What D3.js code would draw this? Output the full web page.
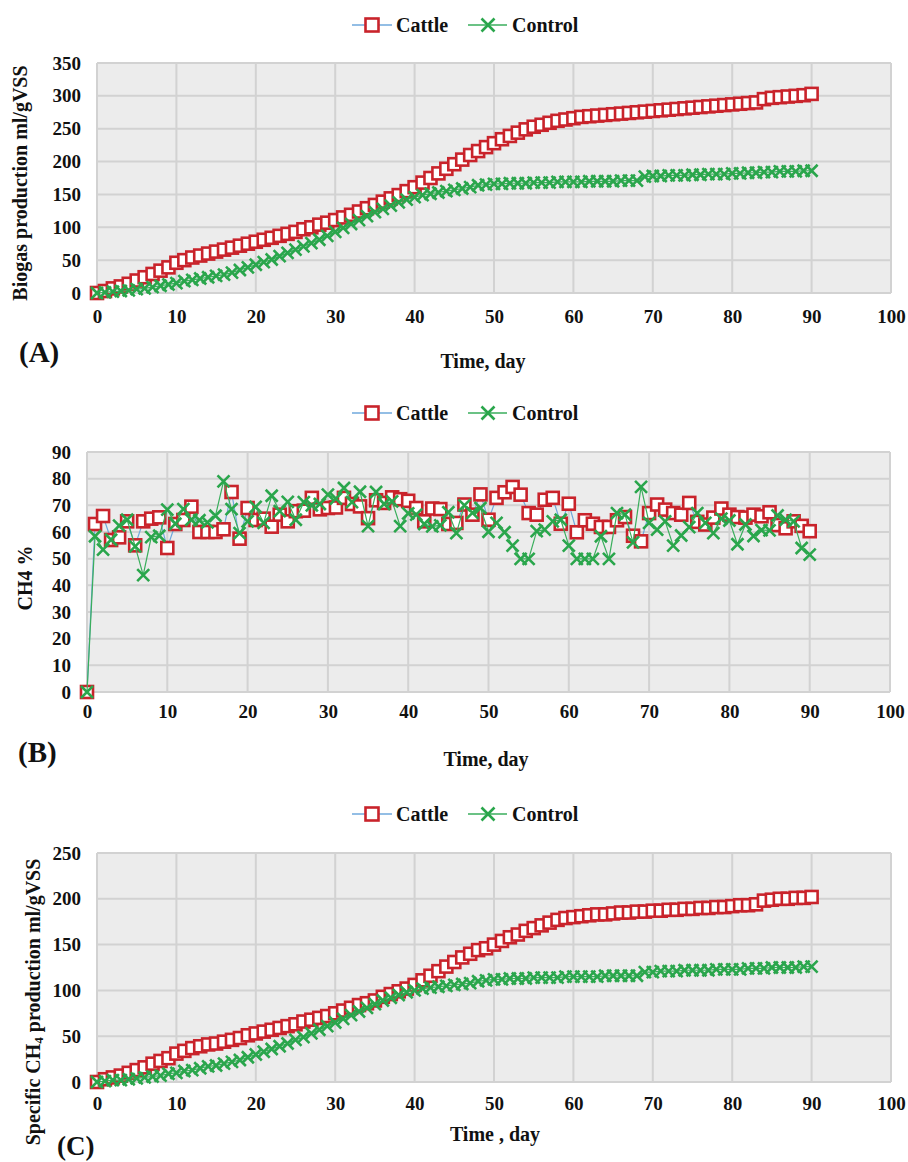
<!DOCTYPE html>
<html>
<head>
<meta charset="utf-8">
<script src="https://cdn.jsdelivr.net/npm/d3@7"></script>
<style>
  html, body { margin: 0; padding: 0; background: #fff; }
  svg { display: block; }
  text { font-family: "Liberation Serif", "Times New Roman", serif; font-weight: bold; fill: #111; }
</style>
</head>
<body>
<svg id="chart" width="908" height="1162"></svg>
<script>
// ---------- DATA ----------
const days = [0,1,2,3,4,5,6,7,8,9,10,11,12,13,14,15,16,17,18,19,20,21,22,23,24,25,26,27,28,29,30,
  31,32,33,34,35,36,37,38,39,40,41,42,43,44,45,46,47,48,49,50,51,52,53,54,55,56,57,58,59,60,
  61,62,63,64,65,66,67,68,69,70,71,72,73,74,75,76,77,78,79,80,81,82,83,84,85,86,87,88,89,90];

const seriesNames = ["Cattle", "Control"];
const xTicks = [0,10,20,30,40,50,60,70,80,90,100];

// (A) cumulative biogas production, ml/gVSS
const biogasCattle = [0,3,7,10,14,19,24,29,34,39,46,50,54,57,60,63,66,69,72,75,78,81,84,87,90,93,97,100,104,107,
  111,115,119,124,129,134,139,144,149,155,161,168,175,182,189,196,203,210,216,222,
  228,234,239,244,249,253,256,259,262,264,266,268,269,270,271,272,273,274,275,276,
  277,278,279,280,281,282,283,284,285,286,287,288,289,290,295,297,298,299,300,301,303];
const biogasControl = [0,1,2,3,4,6,7,9,11,13,15,18,20,22,24,26,28,31,35,39,43,47,51,56,61,66,71,76,81,87,
  93,99,105,111,117,123,128,133,138,142,146,149,151,153,155,157,159,161,164,165,
  166,166,167,167,167,168,168,168,169,169,169,169,170,170,170,170,171,171,171,177,
  178,178,179,179,179,180,180,181,181,181,182,182,183,183,184,184,185,185,185,186,186];
const biogasTicks = [0,50,100,150,200,250,300,350];

// (B) CH4 content, %
const ch4Cattle = [0,63,66,57,58,64,55,64,65,65.5,54,63,64.5,69.5,60,60,60,61,75,57.5,
  69,64.5,65,62,66.5,64,67.8,68,72.8,68.5,69,69.2,72.8,70.5,69.6,65.2,71.9,70.9,73,72.3,
  71.7,69,64,68.8,68.6,63,63.4,70.3,66.5,74.1,64.6,72.8,74.9,76.9,74,67.1,66.5,72.1,72.8,63.1,
  70.6,59.9,64.4,63.1,61.9,61.9,64.4,65.6,58.6,56.5,67.1,70.3,68.4,67.1,66.5,70.9,63.8,62.8,65.4,68.8,
  66.5,65.6,65.4,66.5,65.9,67.4,62.6,61.4,64,62.3,60.3];
const ch4Control = [0,58.4,53.4,57.1,62.4,64.6,54.6,43.8,58.1,58.6,68.4,63.1,68.6,64.6,64.4,63.6,66.1,79,68.6,59.6,
  64,69.4,63.4,73.6,67.8,71.3,64.6,71.2,70,70.5,74,72.5,76.5,71.2,75.1,62.2,75,70.5,71.5,62.2,
  67,66.5,63,62.1,62.5,67.4,59.6,70,67.2,69,60.1,63.4,59.9,54.9,49.9,49.9,60.3,60.9,64,64.6,
  54.9,49.9,49.9,49.9,58.4,49.9,67.1,66.5,56.1,76.9,63.4,60.9,64,54.9,58.7,61.8,67.1,63.4,59.6,65,
  64.3,55.4,62.8,58.5,60.7,60.6,66.2,64.6,64,54,51.5];
const ch4Ticks = [0,10,20,30,40,50,60,70,80,90];

// (C) cumulative specific CH4 production, ml/gVSS
const methaneCattle = [0,3,5,7,10,13,16,20,23,26,31,34,37,39,41,42,44,46,48,51,53,55,57,59,61,63,66,68,70,72,
  75,78,81,84,86,89,93,96,99,102,106,111,116,121,126,131,136,140,144,146,
  150,154,158,161,165,168,171,174,177,179,180,181,182,183,183,184,185,185,186,186,
  187,187,188,188,189,189,190,190,191,191,192,193,193,194,198,199,200,200,201,201,202];
const methaneControl = [0,1,2,2,3,4,5,6,7,9,10,12,13,15,17,18,20,22,24,27,30,33,36,39,42,46,49,53,57,61,
  65,69,73,77,81,85,89,92,95,98,100,102,103,104,105,106,107,108,110,111,
  112,112,113,113,113,114,114,114,114,115,115,115,115,115,116,116,116,116,116,120,
  120,121,121,121,122,122,122,122,123,123,123,123,124,124,124,125,125,125,125,126,126];
const methaneTicks = [0,50,100,150,200,250];

// ---------- STYLE ----------
const RED = "#c9232b";
const GREEN = "#2aa64c";
const BLUE_LINE = "#6fa8dc";
const GREEN_LINE = "#3aae5c";
const GRID = "#d2d2d2";
const BG = "#ececec";

const svg = d3.select("#chart");
svg.append("rect").attr("width", 908).attr("height", 1162).attr("fill", "#fff");

function squareAt(g, x, y, s) {
  g.append("rect").attr("x", x - s/2).attr("y", y - s/2).attr("width", s).attr("height", s)
    .attr("fill", "#fff").attr("stroke", RED).attr("stroke-width", 2.6);
}
function crossAt(g, x, y, s) {
  g.append("path").attr("d", `M${x-s/2},${y-s/2}L${x+s/2},${y+s/2}M${x-s/2},${y+s/2}L${x+s/2},${y-s/2}`)
    .attr("stroke", GREEN).attr("stroke-width", 2.6).attr("fill", "none");
}

function legend(y) {
  const g = svg.append("g");
  g.append("line").attr("x1", 352).attr("x2", 392).attr("y1", y).attr("y2", y).attr("stroke", BLUE_LINE).attr("stroke-width", 1.5);
  squareAt(g, 372, y, 13);
  g.append("text").attr("x", 396).attr("y", y).attr("dy", "0.34em").attr("font-size", 20).text(seriesNames[0]);
  g.append("line").attr("x1", 468).attr("x2", 507).attr("y1", y).attr("y2", y).attr("stroke", GREEN_LINE).attr("stroke-width", 1.5);
  crossAt(g, 488, y, 13);
  g.append("text").attr("x", 512).attr("y", y).attr("dy", "0.34em").attr("font-size", 20).text(seriesNames[1]);
}

function panel(cfg) {
  const x = d3.scaleLinear().domain([0, 100]).range([cfg.left, cfg.right]);
  const y = d3.scaleLinear().domain([0, cfg.yMax]).range([cfg.bottom, cfg.top]);
  const g = svg.append("g");

  g.append("rect").attr("x", cfg.left).attr("y", cfg.top)
    .attr("width", cfg.right - cfg.left).attr("height", cfg.bottom - cfg.top)
    .attr("fill", BG);

  // gridlines
  g.append("g").selectAll("line.v").data(xTicks).join("line")
    .attr("x1", d => x(d)).attr("x2", d => x(d)).attr("y1", cfg.top).attr("y2", cfg.bottom)
    .attr("stroke", GRID).attr("stroke-width", 2);
  g.append("g").selectAll("line.h").data(cfg.yTicks).join("line")
    .attr("x1", cfg.left).attr("x2", cfg.right).attr("y1", d => y(d)).attr("y2", d => y(d))
    .attr("stroke", GRID).attr("stroke-width", 2);

  // axes (labels only)
  const xAxis = g.append("g").attr("transform", `translate(0,${cfg.bottom})`)
    .call(d3.axisBottom(x).tickValues(xTicks).tickSize(0).tickPadding(cfg.xPad));
  xAxis.select(".domain").remove();
  xAxis.selectAll("text").attr("font-size", 19).attr("font-family", "Liberation Serif").attr("font-weight", "bold").attr("fill", "#111");

  const yAxis = g.append("g").attr("transform", `translate(${cfg.left},0)`)
    .call(d3.axisLeft(y).tickValues(cfg.yTicks).tickSize(0).tickPadding(cfg.yPad));
  yAxis.select(".domain").remove();
  yAxis.selectAll("text").attr("font-size", 19).attr("font-family", "Liberation Serif").attr("font-weight", "bold").attr("fill", "#111");

  // series
  const line = d3.line().x((d, i) => x(days[i])).y(d => y(d));
  g.append("path").datum(cfg.s1).attr("d", line).attr("fill", "none").attr("stroke", BLUE_LINE).attr("stroke-width", 1.2);
  const m1 = g.append("g");
  cfg.s1.forEach((v, i) => squareAt(m1, x(days[i]), y(v), 12));
  g.append("path").datum(cfg.s2).attr("d", line).attr("fill", "none").attr("stroke", GREEN_LINE).attr("stroke-width", 1.2);
  const m2 = g.append("g");
  cfg.s2.forEach((v, i) => crossAt(m2, x(days[i]), y(v), 12));

  legend(cfg.legendY);

  // titles
  const yt = svg.append("text").attr("transform", `translate(${cfg.yTitleX},${cfg.yTitleY}) rotate(-90)`)
    .attr("text-anchor", "middle").attr("dominant-baseline", "central").attr("font-size", 20);
  cfg.yTitle(yt);
  svg.append("text").attr("x", cfg.tagX).attr("y", cfg.tagY).attr("font-size", cfg.tagSize || 29).text(cfg.tag);
  svg.append("text").attr("x", cfg.xTitleX).attr("y", cfg.xTitleY).attr("text-anchor", "middle")
    .attr("font-size", 20).text(cfg.xTitle);
}

panel({
  left: 97, right: 891, top: 63, bottom: 293, yMax: 350, yTicks: biogasTicks,
  s1: biogasCattle, s2: biogasControl, legendY: 25, xPad: 17, yPad: 16,
  yTitleX: 20, yTitleY: 183, yTitle: t => t.text("Biogas production ml/gVSS"),
  tag: "(A)", tagX: 19, tagY: 362, xTitle: "Time, day", xTitleX: 483, xTitleY: 368
});

panel({
  left: 87, right: 890, top: 452, bottom: 692, yMax: 90, yTicks: ch4Ticks,
  s1: ch4Cattle, s2: ch4Control, legendY: 413, xPad: 13, yPad: 16,
  yTitleX: 25, yTitleY: 578, yTitle: t => t.text("CH4 %"),
  tag: "(B)", tagX: 18, tagY: 762, xTitle: "Time, day", xTitleX: 486, xTitleY: 766
});

panel({
  left: 97, right: 891, top: 853, bottom: 1082, yMax: 250, yTicks: methaneTicks,
  s1: methaneCattle, s2: methaneControl, legendY: 814, xPad: 15, yPad: 16,
  yTitleX: 33, yTitleY: 1002, yTitle: t => {
    t.append("tspan").text("Specific CH");
    t.append("tspan").attr("font-size", 13).attr("dy", 5).text("4");
    t.append("tspan").attr("dy", -5).text(" production ml/gVSS");
  },
  tag: "(C)", tagX: 57, tagY: 1155, tagSize: 27, xTitle: "Time , day", xTitleX: 495, xTitleY: 1141
});
</script>
</body>
</html>
